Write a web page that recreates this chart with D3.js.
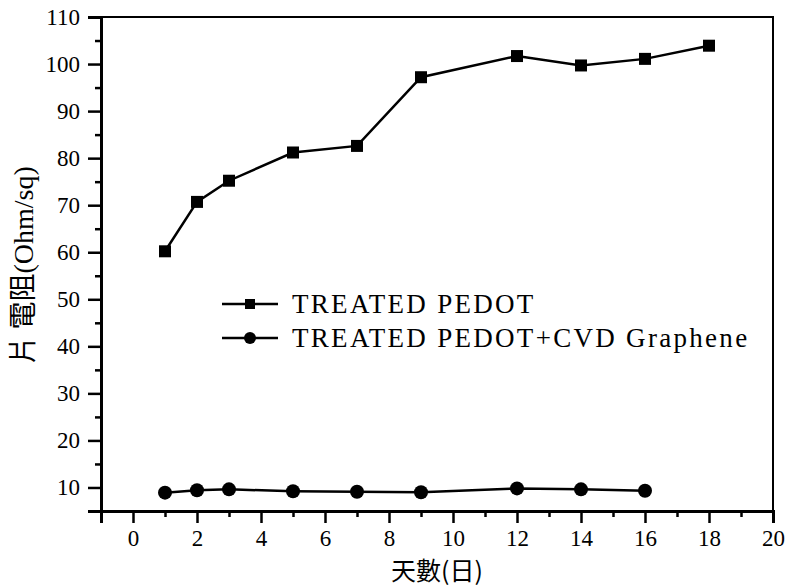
<!DOCTYPE html>
<html lang="zh-Hant">
<head>
<meta charset="UTF-8">
<title>片電阻 vs 天數</title>
<script src="https://d3js.org/d3.v7.min.js"></script>
<style>
    body { margin: 0; background: #fff; }
    svg { display: block; }
    .serif { font-family: "Liberation Serif", "DejaVu Serif", serif; }
    .cjk { font-family: "Noto Sans CJK TC", "Noto Sans CJK SC", sans-serif; }
</style>
</head>
<body>
<svg width="792" height="588"></svg>
<script>
// data
const daysPedot = [1, 2, 3, 5, 7, 9, 12, 14, 16, 18];
const sheetPedot = [60.2, 70.7, 75.2, 81.2, 82.6, 97.2, 101.7, 99.7, 101.1, 103.9];
const daysGraphene = [1, 2, 3, 5, 7, 9, 12, 14, 16];
const sheetGraphene = [8.9, 9.4, 9.6, 9.2, 9.1, 9.0, 9.8, 9.6, 9.3];
const xTicks = [0, 2, 4, 6, 8, 10, 12, 14, 16, 18, 20];
const yTicks = [10, 20, 30, 40, 50, 60, 70, 80, 90, 100, 110];
const seriesNames = ["TREATED PEDOT", "TREATED PEDOT+CVD Graphene"];

const svg = d3.select("svg");
const plotL = 101, plotR = 773, plotT = 17, plotB = 511;

const x = d3.scaleLinear().domain([-1, 20]).range([plotL, plotR]);
const y = d3.scaleLinear().domain([5, 110]).range([plotB, plotT]);

// frame
svg.append("rect")
    .attr("x", plotL).attr("y", plotT)
    .attr("width", plotR - plotL).attr("height", plotB - plotT)
    .attr("fill", "none").attr("stroke", "#000").attr("stroke-width", 2);

// minor ticks
const xMinor = d3.range(-1, 20, 2);
const yMinor = d3.range(15, 110, 10);
svg.append("g").attr("transform", `translate(0,${plotB})`)
    .call(d3.axisBottom(x).tickValues(xMinor).tickSize(6).tickFormat(""))
    .call(g => g.select(".domain").remove())
    .selectAll("line").attr("stroke-width", 2.5);
svg.append("g").attr("transform", `translate(${plotL},0)`)
    .call(d3.axisLeft(y).tickValues(yMinor).tickSize(6).tickFormat(""))
    .call(g => g.select(".domain").remove())
    .selectAll("line").attr("stroke-width", 2.5);

// major axes
const xAxis = svg.append("g").attr("transform", `translate(0,${plotB})`)
    .call(d3.axisBottom(x).tickValues(xTicks).tickSize(12).tickPadding(7))
    .attr("font-family", null).attr("font-size", null);
xAxis.select(".domain").attr("stroke-width", 3);
xAxis.selectAll("line").attr("stroke-width", 2.5);
xAxis.selectAll("text").attr("class", "serif").style("font-size", "23px").attr("fill", "#000");

const yAxis = svg.append("g").attr("transform", `translate(${plotL},0)`)
    .call(d3.axisLeft(y).tickValues(yTicks).tickSize(13).tickPadding(8))
    .attr("font-family", null).attr("font-size", null);
yAxis.select(".domain").attr("stroke-width", 3);
yAxis.selectAll("line").attr("stroke-width", 2.5);
yAxis.selectAll("text").attr("class", "serif").style("font-size", "23px").attr("fill", "#000");

// lines
const line = d3.line().x(d => x(d[0])).y(d => y(d[1]));
const pedot = d3.zip(daysPedot, sheetPedot);
const graphene = d3.zip(daysGraphene, sheetGraphene);

svg.append("path").datum(pedot).attr("d", line)
    .attr("fill", "none").attr("stroke", "#000").attr("stroke-width", 2.5);
svg.append("path").datum(graphene).attr("d", line)
    .attr("fill", "none").attr("stroke", "#000").attr("stroke-width", 2.5);

svg.append("g").selectAll("rect").data(pedot).join("rect")
    .attr("x", d => x(d[0]) - 6).attr("y", d => y(d[1]) - 6)
    .attr("width", 12).attr("height", 12).attr("fill", "#000");
svg.append("g").selectAll("circle").data(graphene).join("circle")
    .attr("cx", d => x(d[0])).attr("cy", d => y(d[1]))
    .attr("r", 7).attr("fill", "#000");

// legend
const legend = svg.append("g");
seriesNames.forEach((name, i) => {
    const ly = 304 + i * 34;
    legend.append("line").attr("x1", 222).attr("x2", 278)
        .attr("y1", ly).attr("y2", ly).attr("stroke", "#000").attr("stroke-width", 2.5);
    if (i === 0) {
        legend.append("rect").attr("x", 245).attr("y", ly - 5)
            .attr("width", 10).attr("height", 10).attr("fill", "#000");
    } else {
        legend.append("circle").attr("cx", 250).attr("cy", ly).attr("r", 6).attr("fill", "#000");
    }
    legend.append("text").attr("class", "serif").attr("x", 292).attr("y", ly + 9)
        .style("font-size", "27px").style("letter-spacing", "2.3px").text(name);
});

// axis titles
svg.append("text").attr("class", "cjk").attr("x", 437).attr("y", 580)
    .attr("text-anchor", "middle").style("font-size", "25px")
    .text("天數(日)");

const yTitle = svg.append("text").attr("class", "cjk")
    .attr("transform", "translate(33,265) rotate(-90)")
    .attr("text-anchor", "middle").style("font-size", "28px");
yTitle.append("tspan").text("片 電阻");
yTitle.append("tspan").attr("class", "serif").text("(Ohm/sq)");
</script>
</body>
</html>
